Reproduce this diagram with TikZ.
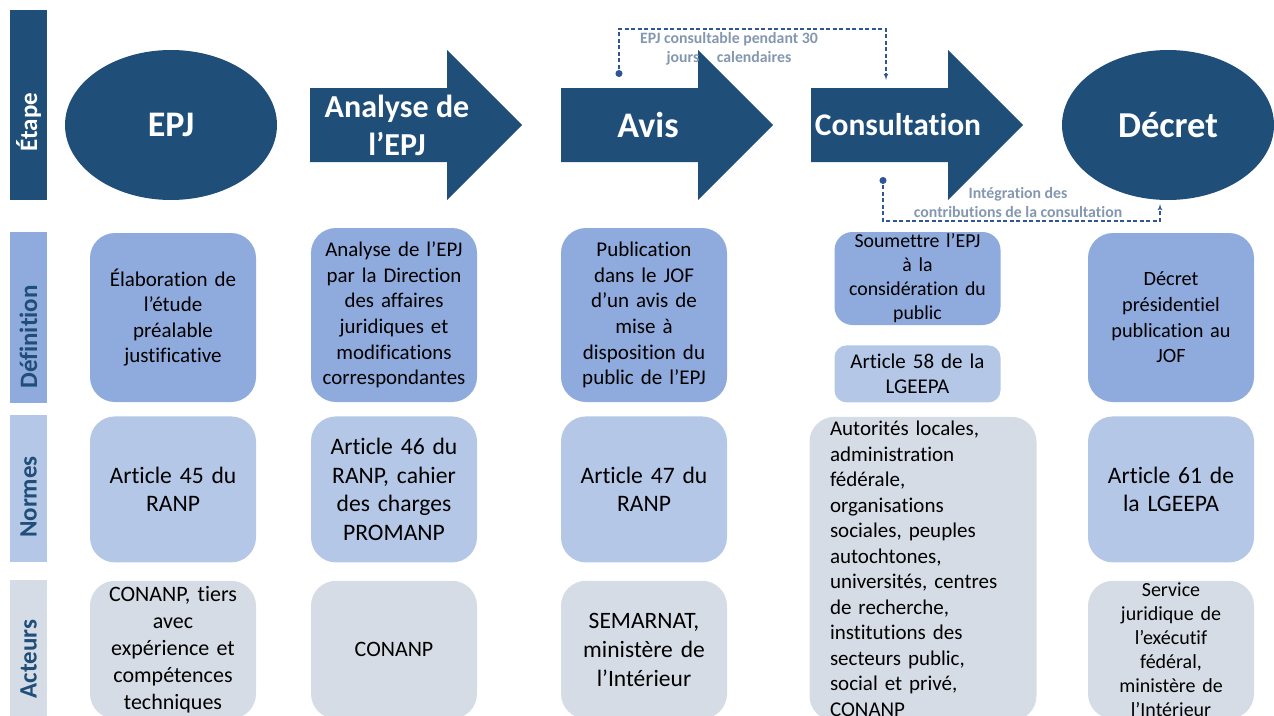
\documentclass[tikz,border=0pt]{standalone}
\usepackage{fontspec}
\setmainfont{Carlito}[Ligatures={CommonOff}]
\usepackage{tikz}
\usetikzlibrary{shapes,arrows,positioning}
\definecolor{navy}{HTML}{1F4E79}
\definecolor{defblue}{HTML}{8FAADC}
\definecolor{normblue}{HTML}{B4C7E7}
\definecolor{actgrey}{HTML}{D6DCE5}
\definecolor{notegrey}{HTML}{8497B0}
\definecolor{linkblue}{HTML}{2F5597}
\tikzstyle{stage} = [ellipse, fill=navy, minimum width=212pt, minimum height=150pt,
    inner sep=0pt, text=white, font=\bfseries\fontsize{36}{40}\selectfont]
\tikzstyle{stagetext} = [text=white, align=center, font=\bfseries\fontsize{32}{38}\selectfont]
\tikzstyle{rowbar} = [rectangle, rotate=90, minimum height=37pt, inner sep=0pt,
    text=navy, font=\bfseries\fontsize{25}{30}\selectfont]
\tikzstyle{defbox} = [rectangle, rounded corners=25pt, fill=defblue, minimum width=166pt,
    text width=160pt, align=center, inner sep=0pt, font=\fontsize{21}{25.6}\selectfont]
\tikzstyle{normbox} = [defbox, fill=normblue, minimum height=146pt, font=\fontsize{23.6}{28.5}\selectfont]
\tikzstyle{actbox} = [defbox, fill=actgrey, minimum height=138pt, font=\fontsize{22}{27}\selectfont]
\tikzstyle{note} = [text=notegrey, align=center, font=\bfseries\fontsize{15.8}{18.5}\selectfont]
\tikzstyle{link} = [draw=linkblue, line width=1.2pt, dash pattern=on 4pt off 2.5pt, *-latex']
\newcommand{\stagearrow}[1]{\fill[navy] (#1,88) -- ++(137,0) -- ++(0,-38) -- ++(75,75)
    -- ++(-75,75) -- ++(0,-38) -- ++(-137,0) -- cycle;}

\begin{document}
\begin{tikzpicture}[x=1pt, y=-1pt]
    \useasboundingbox (0,0) rectangle (1274,715);
    % Row labels
    \node [rowbar, fill=navy, text=white, minimum width=190pt] (etape) at (28.5,105) {Étape\hspace*{34pt}};
    \node [rowbar, fill=defblue, minimum width=171pt] (definition) at (28.5,317.5) {Définition\hspace*{39pt}};
    \node [rowbar, fill=normblue, minimum width=147pt] (normes) at (28.5,488.5) {Normes\hspace*{17pt}};
    \node [rowbar, fill=actgrey, minimum width=140pt] (acteurs) at (28.5,650) {Acteurs\hspace*{18pt}};
    % Stages
    \node [stage] (epj) at (171,125) {EPJ};
    \stagearrow{310}
    \stagearrow{561}
    \stagearrow{811}
    \node [stage, font=\bfseries\fontsize{36.5}{40}\selectfont] (decret) at (1168,125) {Décret};
    \node [stagetext] (analyse) at (397,125) {Analyse de\\l’EPJ};
    \node [stagetext, font=\bfseries\fontsize{36}{40}\selectfont] (avis) at (648,125) {Avis};
    \node [stagetext, font=\bfseries\fontsize{31.5}{36}\selectfont] (consult) at (898,125) {Consultation};
    % Dashed links
    \coordinate (avisdot) at (619,77);
    \coordinate (toprail) at (750,29);
    \coordinate (consin) at (886,80);
    \coordinate (consdot) at (883,177);
    \coordinate (botrail) at (1000,221);
    \coordinate (decretin) at (1160,204);
    \path [link] (avisdot) |- (toprail) -| (consin);
    \path [link] (consdot) |- (botrail) -| (decretin);
    \node [note] (delai) at (729,49) {EPJ consultable pendant 30\\jours\hspace{1.1em}calendaires};
    \node [note] (integration) at (1018,202.5) {Intégration des\\contributions de la consultation};
    % Définition
    \node [defbox, minimum height=169pt] (def1) at (173,317.5) {Élaboration de\\l’étude\\préalable\\justificative};
    \node [defbox, minimum height=174pt, font=\fontsize{20.9}{25.7}\selectfont] (def2) at (394,315)
        {Analyse de l’EPJ\\par la Direction\\des affaires\\juridiques et\\modifications\\correspondantes};
    \node [defbox, minimum height=174pt] (def3) at (644,315)
        {Publication\\dans le JOF\\d’un avis de\\mise à\\disposition du\\public de l’EPJ};
    \node [defbox, minimum height=93pt, rounded corners=18pt, font=\fontsize{19.8}{24}\selectfont] (def4) at (917.5,278.5)
        {Soumettre l’EPJ\\à la\\considération du\\public};
    \node [defbox, fill=normblue, minimum height=57pt, rounded corners=12pt, font=\fontsize{21}{25}\selectfont,
        below=20pt of def4] (art58) {Article 58 de la\\LGEEPA};
    \node [defbox, minimum height=169pt, font=\fontsize{20.3}{25.6}\selectfont] (def5) at (1171,317.5)
        {Décret\\présidentiel\\publication au\\JOF};
    % Normes
    \node [normbox, below=14pt of def1] (norm1) {Article 45 du\\RANP};
    \node [normbox, below=14pt of def2] (norm2) {Article 46 du\\RANP, cahier\\des charges\\PROMANP};
    \node [normbox, below=14pt of def3] (norm3) {Article 47 du\\RANP};
    \node [normbox, fill=actgrey, minimum width=227pt, minimum height=304pt, text width=186pt, align=left,
        font=\fontsize{21}{25.5}\selectfont, below=14pt of art58, xshift=5.5pt] (norm4)
        {Autorités locales,\\administration\\fédérale,\\organisations\\sociales, peuples\\autochtones,\\universités, centres\\de recherche,\\institutions des\\secteurs public,\\social et privé,\\CONANP};
    \node [normbox, below=14pt of def5] (norm5) {Article 61 de\\la LGEEPA};
    % Acteurs
    \node [actbox, below=18pt of norm1] (act1) {CONANP, tiers\\avec\\expérience et\\compétences\\techniques};
    \node [actbox, below=18pt of norm2] (act2) {CONANP};
    \node [actbox, below=18pt of norm3, font=\fontsize{23.5}{29}\selectfont] (act3) {SEMARNAT,\\ministère de\\l’Intérieur};
    \node [actbox, below=18pt of norm5, font=\fontsize{20}{24}\selectfont] (act5)
        {Service\\juridique de\\l’exécutif\\fédéral,\\ministère de\\l’Intérieur};
\end{tikzpicture}
\end{document}
